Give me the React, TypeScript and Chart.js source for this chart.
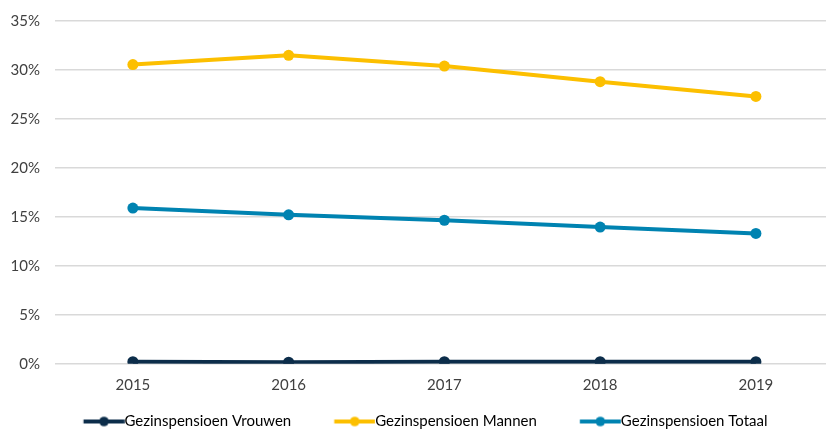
import React, { useEffect, useRef } from "react";
import { Chart, registerables } from "chart.js";

Chart.register(...registerables);

const categories = ["2015", "2016", "2017", "2018", "2019"];
const vrouwen = [0.2, 0.15, 0.2, 0.2, 0.2];
const mannen = [30.55, 31.5, 30.4, 28.8, 27.3];
const totaal = [15.9, 15.2, 14.65, 13.95, 13.3];
const yTicks = [0, 5, 10, 15, 20, 25, 30, 35];

const seriesNames = ["Gezinspensioen Vrouwen", "Gezinspensioen Mannen", "Gezinspensioen Totaal"];
const seriesColors = ["#0c2d4a", "#fcbf00", "#0083b1"];

const FONT = "Lato, 'Open Sans', sans-serif";
const FS = 15;
const ICON_LINE = 41;
const LEAD = 25;
const BOX_W = LEAD + ICON_LINE - FS / 2;
const ICON_W = 74;

const noPadding = () => ({ left: 0, right: 0, top: 0, bottom: 0 });

function legendIcon(color: string) {
  const c = document.createElement("canvas");
  c.width = ICON_W;
  c.height = 12;
  const ctx = c.getContext("2d")!;
  const a = ICON_W / 2 - BOX_W / 2 + LEAD;
  const b = a + ICON_LINE;
  ctx.strokeStyle = color;
  ctx.lineWidth = 4;
  ctx.beginPath();
  ctx.moveTo(a, 6);
  ctx.lineTo(b, 6);
  ctx.stroke();
  ctx.fillStyle = color;
  ctx.beginPath();
  ctx.arc((a + b) / 2, 6, 4.8, 0, Math.PI * 2);
  ctx.fill();
  return c;
}

export default function App() {
  const ref = useRef<HTMLCanvasElement | null>(null);
  useEffect(() => {
    if (!ref.current) return;
    const data = [vrouwen, mannen, totaal];
    const chart = new Chart(ref.current, {
      type: "line",
      data: {
        datasets: data.map((d, i) => ({
          label: seriesNames[i],
          data: d.map((v, k) => ({ x: k, y: v })),
          borderColor: seriesColors[i],
          backgroundColor: seriesColors[i],
          borderWidth: 4,
          pointRadius: 5.5,
          pointBackgroundColor: seriesColors[i],
          pointBorderWidth: 0,
          tension: 0,
          fill: false,
        })),
      },
      options: {
        animation: false,
        responsive: false,
        layout: { autoPadding: false, padding: { left: 0, right: 0, top: 21, bottom: 0 } },
        scales: {
          x: {
            type: "linear",
            min: -0.5,
            max: categories.length - 0.55,
            afterBuildTicks: (s: any) => {
              s.ticks = categories.map((_, k) => ({ value: k }));
            },
            grid: { display: false, drawTicks: false },
            border: { display: false },
            afterFit: (s: any) => {
              s.height = 32.3;
              s.getPadding = noPadding;
            },
            ticks: {
              color: "#404040",
              font: { family: FONT, size: FS },
              padding: 12,
              callback: (v: any) => categories[Math.round(v)],
            },
          },
          y: {
            min: 0,
            max: 35,
            afterBuildTicks: (s: any) => {
              s.ticks = yTicks.map((v) => ({ value: v }));
            },
            afterFit: (s: any) => {
              s.width = 55;
              s.getPadding = noPadding;
            },
            grid: { color: "#d9d9d9", lineWidth: 1.5, drawTicks: false },
            border: { display: false },
            ticks: {
              color: "#404040",
              font: { family: FONT, size: FS },
              padding: 15,
              callback: (v: any) => v + "%",
            },
          },
        },
        plugins: {
          tooltip: { enabled: false },
          legend: {
            position: "bottom",
            maxHeight: 35,
            labels: {
              color: "#404040",
              font: { family: FONT, size: FS },
              usePointStyle: true,
              pointStyleWidth: BOX_W,
              padding: 18,
              generateLabels: () =>
                seriesNames.map((n, i) => ({
                  text: n,
                  fillStyle: seriesColors[i],
                  strokeStyle: seriesColors[i],
                  lineWidth: 0,
                  pointStyle: legendIcon(seriesColors[i]) as any,
                  datasetIndex: i,
                  hidden: false,
                })),
            },
          },
        },
      },
    });
    return () => chart.destroy();
  }, []);
  return (
    <div style={{ position: "fixed", left: 0, top: 0, width: 826, height: 431, background: "#fff" }}>
      <canvas ref={ref} width={826} height={431} style={{ width: 826, height: 431 }} />
    </div>
  );
}
